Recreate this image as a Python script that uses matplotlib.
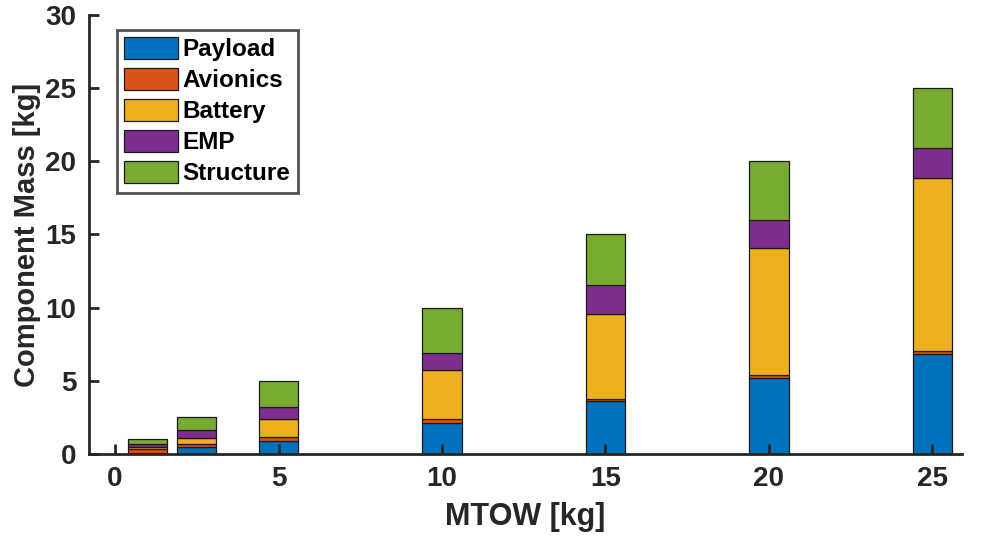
import numpy as np
import matplotlib.pyplot as plt

# MTOW categories and component masses [kg]
mtow = [1, 2.5, 5, 10, 15, 20, 25]
payload = [0.10, 0.45, 0.90, 2.15, 3.60, 5.20, 6.85]
avionics = [0.25, 0.22, 0.25, 0.22, 0.18, 0.20, 0.22]
battery = [0.15, 0.40, 1.25, 3.37, 5.80, 8.70, 11.80]
emp = [0.20, 0.60, 0.80, 1.15, 2.00, 1.90, 2.05]
structure = [0.30, 0.83, 1.80, 3.11, 3.42, 4.00, 4.08]

labels = ['Payload', 'Avionics', 'Battery', 'EMP', 'Structure']
colors = ['#0072BD', '#D95319', '#EDB120', '#7E2F8E', '#77AC30']
series = [payload, avionics, battery, emp, structure]

plt.rcParams['font.family'] = ['Liberation Sans', 'DejaVu Sans']
plt.rcParams['font.weight'] = 'bold'

fig = plt.figure(figsize=(9.84, 5.39), dpi=100)
ax = fig.add_axes([0.0904, 0.1577, 0.887, 0.8145])

bottom = np.zeros(len(mtow))
for vals, lab, col in zip(series, labels, colors):
    ax.bar(mtow, vals, width=1.2, bottom=bottom, color=col, edgecolor='#1a1a1a',
           linewidth=0.9, label=lab)
    bottom += np.array(vals)

ax.set_xlim(-0.8, 25.9)
ax.set_ylim(0, 30)
ax.set_xticks([0, 5, 10, 15, 20, 25])
ax.set_yticks([0, 5, 10, 15, 20, 25, 30])

for s in ['top', 'right']:
    ax.spines[s].set_visible(False)
for s in ['left', 'bottom']:
    ax.spines[s].set_linewidth(2.0)
    ax.spines[s].set_color('#262626')

ax.tick_params(direction='in', length=7, width=2.0, color='#262626',
               labelsize=20, labelcolor='#262626', pad=9)
for t in ax.get_xticklabels() + ax.get_yticklabels():
    t.set_fontweight('bold')

ax.set_xlabel('MTOW [kg]', fontsize=22, fontweight='bold', color='#262626', labelpad=7)
ax.set_ylabel('Component Mass [kg]', fontsize=21, fontweight='bold', color='#262626', labelpad=3)

leg = ax.legend(loc='upper left', bbox_to_anchor=(0.032, 0.966), fontsize=17.5,
                frameon=True, fancybox=False, edgecolor='#262626',
                handlelength=2.2, handleheight=1.0, handletextpad=0.2,
                labelspacing=0.28, borderpad=0.3, borderaxespad=0)
leg.get_frame().set_linewidth(2.0)
for t in leg.get_texts():
    t.set_fontweight('bold')
    t.set_color('#000000')

plt.savefig('out.png', dpi=100)
